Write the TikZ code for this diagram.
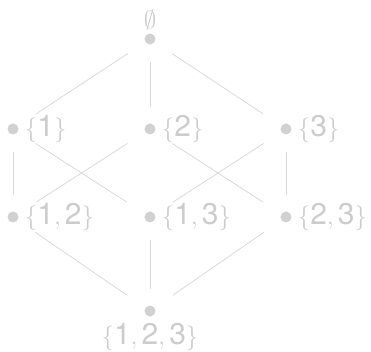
\documentclass[tikz,border=0pt]{standalone}
\usepackage{amsmath}
\usepackage{amssymb}
\usepackage{fontspec}
\setmainfont{TeX Gyre Heros}

\begin{document}
\begin{tikzpicture}[x=1pt,y=-1pt,
  dot/.style={circle,fill=black!18,draw=none,minimum size=11pt,inner sep=0pt},
  every label/.style={shape=rectangle,text=black!20,inner sep=6pt,font=\fontsize{30}{36}\selectfont},
  edge/.style={draw=black!15,line width=0.8pt},
  vert/.style={edge,shorten <=17pt,shorten >=16pt},
  diag/.style={edge,shorten <=21pt,shorten >=22pt}]
\useasboundingbox (0,0) rectangle (371,352);
\begin{scope}
  \node[dot,label={[inner sep=3pt]above:$\emptyset$}] (e) at (150,39) {};
  \node[dot,label={right:$\{\text{1}\}$}] (s1) at (13,129) {};
  \node[dot,label={right:$\{\text{2}\}$}] (s2) at (150,129) {};
  \node[dot,label={right:$\{\text{3}\}$}] (s3) at (286,129) {};
  \node[dot,label={right:$\{\text{1},\text{2}\}$}] (s12) at (13,217) {};
  \node[dot,label={right:$\{\text{1},\text{3}\}$}] (s13) at (150,217) {};
  \node[dot,label={right:$\{\text{2},\text{3}\}$}] (s23) at (286,217) {};
  \node[dot,label={[inner sep=6pt]below:$\{\text{1},\text{2},\text{3}\}$}] (s123) at (150,311) {};
  \draw[diag] (e) -- (s1);
  \draw[vert] (e) -- (s2);
  \draw[diag] (e) -- (s3);
  \draw[vert] (s1) -- (s12);
  \draw[diag] (s1) -- (s13);
  \draw[diag] (s2) -- (s12);
  \draw[diag] (s2) -- (s23);
  \draw[diag] (s3) -- (s13);
  \draw[vert] (s3) -- (s23);
  \draw[diag] (s12) -- (s123);
  \draw[vert] (s13) -- (s123);
  \draw[diag] (s23) -- (s123);
\end{scope}
\end{tikzpicture}
\end{document}
